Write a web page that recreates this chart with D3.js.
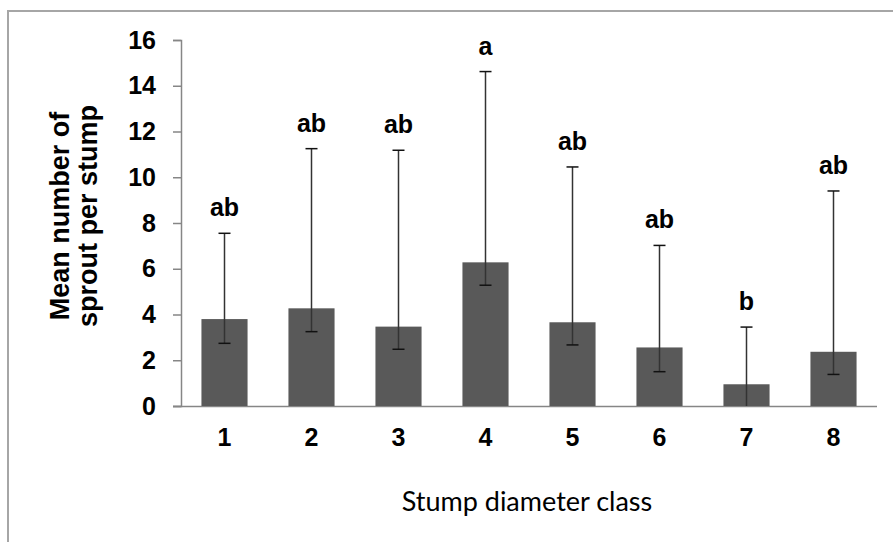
<!DOCTYPE html>
<html>
<head>
<meta charset="utf-8">
<script src="https://cdn.jsdelivr.net/npm/d3@7"></script>
<style>
    body{margin:0;background:#fff;}
    svg{display:block;}
</style>
</head>
<body>
<div id="chart"></div>
<script>
    //chart data
    var classes = ["1","2","3","4","5","6","7","8"];
    var means = [3.8, 4.27, 3.47, 6.28, 3.66, 2.56, 0.95, 2.37];
    var lowerErr = [2.74, 3.25, 2.48, 5.28, 2.67, 1.5, 0, 1.38];
    var upperErr = [7.55, 11.25, 11.18, 14.62, 10.45, 7.02, 3.45, 9.4];
    var letters = ["ab","ab","ab","a","ab","ab","b","ab"];
    var yTicks = [0,2,4,6,8,10,12,14,16];

(function(){

    function chart(){
        var width = 893,
            height = 542;

        var svg = d3.select("#chart")
            .append("svg")
            .attr("width",width)
            .attr("height",height);

        //outer frame, only top and left edges show in the picture
        svg.append("rect")
            .attr("x",8)
            .attr("y",11)
            .attr("width",width)
            .attr("height",height)
            .attr("fill","#fff")
            .attr("stroke","#a6a6a6")
            .attr("stroke-width",2);

        var x = d3.scaleBand()
            .domain(classes)
            .range([181,877])
            .paddingInner(0.47)
            .paddingOuter(0.235);

        var y = d3.scaleLinear()
            .domain([0,16])
            .range([406,40]);

        var data = classes.map(function(c,i){
            return {cls:c, mean:means[i], lo:lowerErr[i], hi:upperErr[i], letter:letters[i]};
        });

        var boldFont = "'Liberation Sans', Arial, sans-serif";

        //y axis
        var yAxis = svg.append("g")
            .attr("transform","translate(181,0)")
            .call(d3.axisLeft(y).tickValues(yTicks).tickSize(8).tickPadding(17));
        yAxis.select(".domain").attr("stroke","#868686").attr("stroke-width",1.5);
        yAxis.selectAll(".tick line").attr("stroke","#868686").attr("stroke-width",1.5);
        yAxis.selectAll(".tick text")
            .attr("fill","#000")
            .style("font-family",boldFont)
            .style("font-weight","bold")
            .style("font-size","25px");

        //x axis
        var xAxis = svg.append("g")
            .attr("transform","translate(0,406)")
            .call(d3.axisBottom(x).tickSize(0).tickPadding(22).tickSizeOuter(0));
        xAxis.select(".domain")
            .attr("d","M173,0.5H877")
            .attr("stroke","#868686")
            .attr("stroke-width",1.5);
        xAxis.selectAll(".tick text")
            .attr("fill","#000")
            .style("font-family",boldFont)
            .style("font-weight","bold")
            .style("font-size","25px");

        //bars
        svg.selectAll(".bar")
            .data(data)
            .enter()
            .append("rect")
            .attr("class","bar")
            .attr("x",function(d){return x(d.cls)})
            .attr("y",function(d){return y(d.mean)})
            .attr("width",x.bandwidth())
            .attr("height",function(d){return y(0) - y(d.mean)})
            .attr("fill","#595959");

        //error bars
        var errG = svg.selectAll(".err")
            .data(data)
            .enter()
            .append("g")
            .attr("class","err")
            .attr("transform",function(d){return "translate(" + (x(d.cls) + x.bandwidth()/2) + ",0)"});
        errG.append("line")
            .attr("x1",0).attr("x2",0)
            .attr("y1",function(d){return y(d.lo)})
            .attr("y2",function(d){return y(d.hi)})
            .attr("stroke","#333")
            .attr("stroke-width",1.5);
        errG.append("line")
            .attr("x1",-6).attr("x2",6)
            .attr("y1",function(d){return y(d.hi)})
            .attr("y2",function(d){return y(d.hi)})
            .attr("stroke","#111")
            .attr("stroke-width",1.5);
        errG.filter(function(d){return d.lo > 0})
            .append("line")
            .attr("x1",-6).attr("x2",6)
            .attr("y1",function(d){return y(d.lo)})
            .attr("y2",function(d){return y(d.lo)})
            .attr("stroke","#111")
            .attr("stroke-width",1.5);

        //significance letters
        errG.append("text")
            .attr("x",0)
            .attr("y",function(d){return y(d.hi) - 17})
            .attr("text-anchor","middle")
            .style("font-family",boldFont)
            .style("font-weight","bold")
            .style("font-size","25px")
            .text(function(d){return d.letter});

        //axis titles
        var yTitle = svg.append("text")
            .attr("transform","translate(60,216) rotate(-90)")
            .attr("text-anchor","middle")
            .style("font-family",boldFont)
            .style("font-weight","bold")
            .style("font-size","27px");
        yTitle.append("tspan").attr("x",0).attr("dy","0.35em").text("Mean number of");
        yTitle.append("tspan").attr("x",0).attr("dy","1.03em").text("sprout per stump");

        svg.append("text")
            .attr("x",527)
            .attr("y",511)
            .attr("text-anchor","middle")
            .style("font-family","Lato, 'Open Sans', sans-serif")
            .style("font-size","27px")
            .text("Stump diameter class");
    };

    chart();
}) ();
</script>
</body>
</html>
